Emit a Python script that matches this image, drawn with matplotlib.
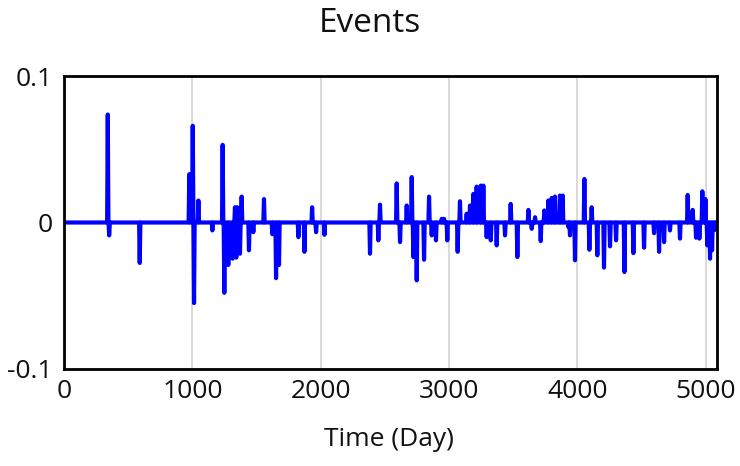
import matplotlib
matplotlib.use("Agg")
import matplotlib.pyplot as plt
import numpy as np

plt.rcParams['font.family'] = ['Open Sans', 'DejaVu Sans']

# event days and their values, zero between events
event_days = [341, 352, 590, 976, 1003, 1013, 1047, 1156, 1236, 1249,
              1280, 1314, 1332, 1342, 1350, 1371, 1384, 1441, 1475, 1558,
              1623, 1652, 1675, 1826, 1873, 1933, 1964, 2029, 2384, 2449,
              2462, 2592, 2618, 2670, 2709, 2722, 2748, 2805, 2844, 2865,
              2898, 2943, 2961, 2986, 3067, 3085, 3137, 3163, 3189, 3215,
              3247, 3267, 3293, 3325, 3371, 3436, 3480, 3532, 3618, 3644,
              3670, 3714, 3742, 3773, 3800, 3825, 3864, 3885, 3929, 3942,
              3981, 4054, 4093, 4111, 4155, 4207, 4254, 4301, 4366, 4436,
              4519, 4597, 4636, 4675, 4721, 4799, 4859, 4898, 4924, 4950,
              4973, 4997, 5012, 5033, 5049, 5072]
event_values = [0.0737, -0.0088, -0.0276, 0.033, 0.066, -0.055, 0.015, -0.0054, 0.053, -0.048,
                -0.029, -0.0247, 0.0104, -0.024, 0.0104, -0.0213, 0.0177, -0.019, -0.0066, 0.016,
                -0.008, -0.038, -0.029, -0.010, -0.020, 0.0104, -0.0066, -0.0084, -0.0213, -0.0122,
                0.0122, 0.0267, -0.0134, 0.0116, 0.031, -0.0236, -0.0395, -0.0254, 0.0177, -0.0088,
                -0.0122, 0.0025, 0.0025, -0.0122, -0.020, 0.0145, 0.006, 0.0116, 0.0195, 0.0245,
                0.0252, 0.0252, -0.010, -0.0122, -0.0156, -0.0088, 0.0127, -0.0236, 0.0086, -0.0043,
                0.0036, -0.0127, 0.0082, 0.015, 0.0168, 0.0177, 0.0184, 0.0184, -0.003, -0.0088,
                -0.0258, 0.0297, -0.0186, 0.0104, -0.0224, -0.0308, -0.0163, -0.0122, -0.0338, -0.0209,
                -0.0172, -0.0073, -0.020, -0.0134, -0.0054, -0.011, 0.0188, 0.0086, -0.0104, -0.011,
                0.0213, 0.016, -0.0156, -0.0247, -0.019, -0.005]
start_day, end_day = 0, 5085
pulse = 5  # days each event ramps in/out

xs = [start_day]
ys = [0.0]
for d, v in zip(event_days, event_values):
    xs += [d - pulse, d, d + pulse]
    ys += [0.0, v, 0.0]
xs.append(end_day)
ys.append(0.0)

fig = plt.figure(figsize=(7.4, 4.66), dpi=100)
ax = fig.add_axes([64 / 740, 1 - 369 / 466, (716.7 - 64) / 740, (369 - 76) / 466])

ax.plot(xs, ys, color='#0000ff', lw=3.0, solid_joinstyle='round')

ax.set_xlim(start_day, end_day)
ax.set_ylim(-0.1, 0.1)
ax.set_xticks([0, 1000, 2000, 3000, 4000, 5000])
ax.set_yticks([-0.1, 0, 0.1])
ax.set_yticklabels(['-0.1', '0', '0.1'])
ax.tick_params(length=0, labelsize=19, labelcolor='#111111')
ax.tick_params(axis='x', pad=7)
ax.tick_params(axis='y', pad=8)
ax.grid(axis='x', color='#d3d3d3', lw=1.2)
ax.set_axisbelow(True)
for s in ax.spines.values():
    s.set_linewidth(2.0)
    s.set_color('black')

fig.text(0.5, 1 - 24 / 466, 'Events', ha='center', va='center', fontsize=24, color='#111111')
fig.text(389 / 740, 1 - 440 / 466, 'Time (Day)', ha='center', va='center', fontsize=19, color='#111111')

fig.savefig('out.png', dpi=100)
